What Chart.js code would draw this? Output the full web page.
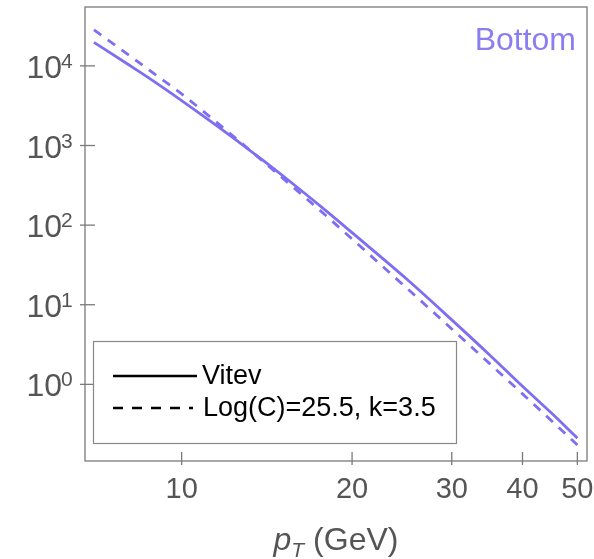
<!doctype html>
<html>
<head>
    <meta charset="utf-8" />
    <title>Bottom pT spectrum</title>
    <script src="https://cdn.jsdelivr.net/npm/chart.js@4/dist/chart.umd.min.js"></script>
    <style>
        body { margin: 0; background: #fff; }
        canvas { display: block; }
    </style>
</head>
<body>
    <canvas id="ptChart" width="594" height="559"></canvas>

<script>
    // values (pT in GeV)
    var ptValues = [7, 8, 9, 10, 12, 14, 16, 18, 20, 25, 30, 35, 40, 45, 50];
    var vitevValues = [19770, 10700, 6170, 3670, 1445, 631, 299, 151, 80.4, 20.9, 6.46, 2.34, 0.944, 0.436, 0.211];
    var fitValues = [28250, 14290, 7710, 4440, 1545, 612, 271, 131, 67, 16.1, 4.97, 1.82, 0.76, 0.35, 0.173];

    var xTicks = [10, 20, 30, 40, 50];
    var yTicks = [1, 10, 100, 1000, 10000];
    var yTickExponents = ["0", "1", "2", "3", "4"];

    var legendLabels = ["Vitev", "Log(C)=25.5, k=3.5"];
    var panelTitle = "Bottom";

    var lineColor = "#7d6ef2";
    var textGray = "#555555";
    var frameGray = "#7a7a7a";
    var fontFamily = "'Liberation Sans', Arial, sans-serif";

    function toPoints(ys) {
        return ptValues.map(function (x, i) { return { x: x, y: ys[i] }; });
    }

    // frame, ticks, labels and legend drawn Mathematica-style
    var framePlugin = {
        id: "frame",
        afterDraw: function (chart) {
            var ctx = chart.ctx;
            var area = chart.chartArea;
            var xs = chart.scales.x;
            var ys = chart.scales.y;

            ctx.save();
            ctx.strokeStyle = frameGray;
            ctx.lineWidth = 1.3;
            ctx.strokeRect(area.left, area.top, area.right - area.left, area.bottom - area.top);

            // y ticks
            ctx.fillStyle = textGray;
            yTicks.forEach(function (v, i) {
                var y = ys.getPixelForValue(v);
                ctx.beginPath();
                ctx.moveTo(area.left - 5, y);
                ctx.lineTo(area.left + 10, y);
                ctx.stroke();
                ctx.font = "32px " + fontFamily;
                ctx.textAlign = "right";
                ctx.textBaseline = "alphabetic";
                ctx.fillText("10", 62, y + 12);
                ctx.font = "21px " + fontFamily;
                ctx.textAlign = "left";
                ctx.fillText(yTickExponents[i], 61, y + 2);
            });

            // x ticks
            xTicks.forEach(function (v) {
                var x = xs.getPixelForValue(v);
                ctx.beginPath();
                ctx.moveTo(x, area.bottom - 9);
                ctx.lineTo(x, area.bottom + 4);
                ctx.stroke();
                ctx.font = "29px " + fontFamily;
                ctx.textAlign = "center";
                ctx.fillText(String(v), x, 498);
            });

            // axis title: p_T (GeV)
            var mid = (area.left + area.right) / 2;
            ctx.font = "italic 32px " + fontFamily;
            var wp = ctx.measureText("p").width;
            ctx.font = "italic 21px " + fontFamily;
            var wt = ctx.measureText("T").width;
            ctx.font = "32px " + fontFamily;
            var wg = ctx.measureText(" (GeV)").width;
            var x0 = mid - (wp + wt + wg) / 2;
            ctx.textAlign = "left";
            ctx.font = "italic 32px " + fontFamily;
            ctx.fillText("p", x0, 550);
            ctx.font = "italic 21px " + fontFamily;
            ctx.fillText("T", x0 + wp, 557);
            ctx.font = "32px " + fontFamily;
            ctx.fillText(" (GeV)", x0 + wp + wt, 550);

            // panel title
            ctx.fillStyle = "#8b7ef0";
            ctx.font = "32px " + fontFamily;
            ctx.textAlign = "right";
            ctx.fillText(panelTitle, 576, 50);

            // legend box
            ctx.fillStyle = "#ffffff";
            ctx.fillRect(93.5, 341.5, 363, 102);
            ctx.strokeStyle = "#888888";
            ctx.lineWidth = 1.2;
            ctx.strokeRect(93.5, 341.5, 363, 102);

            ctx.strokeStyle = "#000000";
            ctx.lineWidth = 2.5;
            ctx.beginPath();
            ctx.moveTo(113, 376);
            ctx.lineTo(197, 376);
            ctx.stroke();
            ctx.setLineDash([10, 9]);
            ctx.beginPath();
            ctx.moveTo(113, 408);
            ctx.lineTo(193, 408);
            ctx.stroke();
            ctx.setLineDash([]);

            ctx.fillStyle = "#000000";
            ctx.font = "27px " + fontFamily;
            ctx.textAlign = "left";
            ctx.fillText(legendLabels[0], 202, 384);
            ctx.fillText(legendLabels[1], 203, 416);
            ctx.restore();
        }
    };

    var ctx = document.getElementById("ptChart").getContext("2d");
    var myChart = new Chart(ctx, {
        type: "line",
        data: {
            datasets: [{
                label: legendLabels[0],
                data: toPoints(vitevValues),
                borderColor: lineColor,
                borderWidth: 2.8,
                pointRadius: 0,
                fill: false,
                cubicInterpolationMode: "monotone"
            }, {
                label: legendLabels[1],
                data: toPoints(fitValues),
                borderColor: lineColor,
                borderWidth: 2.8,
                borderDash: [9, 8],
                pointRadius: 0,
                fill: false,
                cubicInterpolationMode: "monotone"
            }]
        },
        options: {
            responsive: false,
            animation: false,
            layout: { padding: { left: 85, top: 7, right: 7, bottom: 98 } },
            plugins: {
                legend: { display: false },
                tooltip: { enabled: false }
            },
            scales: {
                x: { type: "logarithmic", min: 6.75, max: 52, display: false },
                y: { type: "logarithmic", min: 0.109, max: 54900, display: false }
            }
        },
        plugins: [framePlugin]
    });
</script>
</body>
</html>
